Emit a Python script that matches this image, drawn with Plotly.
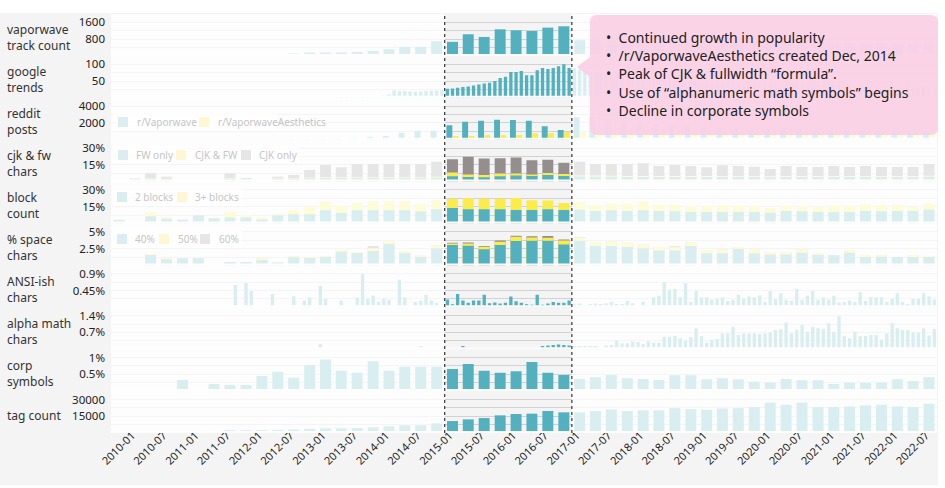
import pandas as pd
import plotly.graph_objects as go
from plotly.subplots import make_subplots

# ---------------- categories ----------------
quarters = [d.strftime('%Y-%m-%d') for d in pd.date_range('2009-10-01', '2022-07-01', freq='QS')]  # 52
months = [d.strftime('%Y-%m-%d') for d in pd.date_range('2009-10-01', '2022-09-01', freq='MS')]    # 156

# ---------------- data (quarterly, 2009-Q4 .. 2022-Q3) ----------------
track_count = ([0] * 11 + [110, 160, 160, 160, 190, 240, 320, 430, 430, 700]
               + [670, 1033, 905, 1270, 1223, 1190, 1350, 1414]
               + [747, 760, 720, 700, 740, 700, 680, 720, 700, 660, 640, 680, 700, 720, 680, 660, 640, 620, 600, 620, 600, 580, 620])

reddit_vaporwave = ([0] * 11 + [80, 120, 150, 180, 220, 357, 440, 833, 1071, 1071]
                    + [1714, 2142, 2261, 2380, 2344, 2261, 1595, 1154]
                    + [2665, 2700, 2400, 2200, 2100, 1900, 1700, 1600, 1500, 1400, 1300, 1200, 1300, 1400, 1300, 1200, 1100, 1000, 950, 900, 850, 800, 800])
reddit_aesthetics = ([0] * 20 + [30]
                     + [440, 440, 520, 520, 560, 760, 760, 916]
                     + [950, 1000, 1100, 1200, 1300, 1300, 1250, 1200, 1200, 1150, 1100, 1100, 1200, 1300, 1200, 1100, 1000, 950, 900, 850, 800, 800, 780])

cjk_fw_only = ([0, 2.0, 2.8, 2.3, 0, 0, 0, 2.5, 2.2, 0, 2.4, 2.6, 3.0, 3.2, 3.2, 3.3, 3.3, 3.3, 3.3, 3.3, 3.5]
               + [4.8, 4.2, 3.9, 4.8, 5.4, 5.1, 6.0, 5.1]
               + [4.5, 4.4, 4.3, 4.2, 4.2, 4.2, 4.2, 4.2, 4.2, 4.2, 4.2, 4.2, 4.0, 4.2, 4.2, 4.2, 4.2, 4.2, 4.2, 4.2, 4.2, 4.2, 4.4])
cjk_and_fw = ([0, 0.2, 0.5, 0.3, 0, 0, 0, 0.4, 0.2, 0, 0.3, 0.4, 0.6, 0.6, 0.6, 0.7, 0.7, 0.7, 0.7, 0.7, 0.8]
              + [3.3, 2.1, 2.1, 2.4, 1.8, 1.2, 1.8, 1.8]
              + [1.0, 1.0, 0.9, 0.8, 0.8, 0.8, 0.8, 0.8, 0.8, 0.8, 0.8, 0.8, 0.8, 0.8, 0.8, 0.8, 0.8, 0.8, 0.8, 0.8, 0.8, 0.8, 0.8])
cjk_only = ([0, 0.6, 4.1, 1.7, 0, 0, 0, 4.5, 0.9, 0, 1.6, 2.8, 6.7, 11.0, 9.0, 11.8, 11.8, 11.8, 11.8, 11.8, 13.5]
            + [12.0, 15.9, 14.7, 13.8, 14.4, 12.9, 11.7, 9.9]
            + [12.3, 10.4, 10.6, 10.8, 11.4, 9.0, 9.8, 9.0, 7.8, 9.6, 9.0, 8.4, 6.5, 9.0, 8.1, 8.1, 9.0, 8.1, 9.0, 8.1, 8.1, 8.1, 10.6])

blocks_2 = ([3.3, 0, 6.6, 4.3, 3.3, 7.3, 4.8, 5.3, 5.3, 3.6, 7.3, 8.2, 8.2, 11.8, 9.4, 11.8, 11.8, 11.8, 11.8, 10.8, 12.8]
            + [13.8, 12.8, 12.8, 12.8, 12.0, 12.0, 12.8, 12.0]
            + [12.4, 11.2, 11.8, 11.2, 11.8, 11.2, 10.9, 10.3, 10.3, 10.3, 10.3, 10.3, 9.7, 11.2, 10.9, 10.3, 10.3, 10.3, 11.2, 10.9, 11.2, 11.2, 12.4])
blocks_3plus = ([0, 0, 3.6, 1.5, 0, 0, 0, 5.0, 2.0, 1.8, 1.5, 3.6, 6.3, 7.6, 6.4, 6.6, 8.2, 8.2, 8.2, 6.6, 8.2]
                + [8.4, 9.9, 9.3, 9.3, 10.8, 8.7, 7.8, 6.3]
                + [6.9, 5.2, 6.0, 6.7, 7.6, 5.8, 6.1, 5.2, 5.5, 6.1, 5.5, 5.5, 4.2, 4.6, 4.6, 4.6, 5.5, 5.5, 5.5, 5.5, 5.5, 3.6, 5.5])

space_40 = ([0, 0, 1.54, 0.9, 1.05, 1.05, 0, 0.5, 0.5, 0.8, 0.45, 1.2, 1.1, 1.3, 2.04, 1.84, 2.14, 3.2, 1.84, 1.3, 2.54]
            + [3.03, 2.93, 2.4, 3.03, 3.63, 3.68, 3.68, 3.13]
            + [3.68, 2.88, 2.9, 2.73, 2.54, 2.24, 2.24, 2.9, 1.8, 1.8, 2.5, 1.8, 1.64, 1.64, 1.9, 1.54, 1.5, 1.9, 1.25, 1.3, 1.25, 1.25, 1.25])
space_50 = ([0, 0, 0.15, 0.25, 0, 0, 0, 0, 0, 0.25, 0, 0.15, 0.1, 0.1, 0.25, 0.15, 0.4, 0.45, 0.3, 0.15, 0.45]
            + [0.25, 0.35, 0.4, 0.5, 0.65, 0.5, 0.45, 0.6]
            + [0.5, 0.5, 0.7, 0.65, 0.6, 0.5, 0.45, 0.5, 0.5, 0.6, 0.25, 0.7, 0.35, 0.25, 0.5, 0.2, 0, 0.4, 0.3, 0.2, 0, 0.3, 0.15])
space_60 = ([0] * 16 + [0.35, 0, 0, 0, 0]
            + [0.1, 0.15, 0.1, 0.2, 0.15, 0.15, 0.25, 0.15]
            + [0.05, 0, 0, 0, 0, 0, 0.15, 0, 0, 0, 0, 0, 0, 0, 0, 0, 0, 0, 0, 0, 0, 0, 0])

corp_symbols = ([0, 0, 0, 0, 0.33, 0, 0.21, 0.18, 0.18, 0.45, 0.58, 0.4, 0.78, 0.94, 0.61, 0.55, 0.89, 0.61, 0.73, 0.73, 0.73]
                + [0.66, 0.81, 0.61, 0.55, 0.59, 0.87, 0.55, 0.48]
                + [0.36, 0.41, 0.48, 0.38, 0.36, 0.33, 0.47, 0.47, 0.35, 0.38, 0.35, 0.28, 0.26, 0.36, 0.32, 0.32, 0.21, 0.25, 0.25, 0.26, 0.35, 0.3, 0.41])

tag_count = ([0] * 7 + [2600, 2600, 2700, 2800, 3100, 3600, 4200, 4200, 4500, 5100, 6000, 6900, 6900, 8600]
             + [10700, 12200, 13400, 15800, 17000, 17300, 19700, 18500]
             + [18500, 19700, 21100, 19700, 20300, 20300, 22300, 21400, 20800, 22000, 22300, 23200, 27100, 25300, 27100, 23200, 23200, 23800, 24700, 25300, 23800, 23200, 26200])

# ---------------- data (monthly, 2009-10 .. 2022-09) ----------------
google_trends = ([0] * 33
                 + [1, 1, 1, 2, 2, 2, 2, 2, 2, 2, 3, 3, 3, 3, 3, 4, 4, 5]
                 + [6, 10, 22, 20, 20, 19, 18, 19, 20, 21, 22, 23]
                 + [27, 28, 30, 32, 34, 37, 40, 43, 45, 50, 59, 63, 77, 77, 80, 67, 67, 82, 89, 86, 89, 94, 100, 89]
                 + [88, 85, 80, 78, 76, 75, 74, 72, 70, 68, 66, 64,
                    62, 60, 58, 56, 55, 54, 52, 50, 50, 48, 48, 47,
                    46, 45, 45, 44, 44, 43, 42, 42, 41, 40, 40, 40,
                    40, 40, 42, 44, 45, 44, 43, 42, 41, 40, 40, 39,
                    38, 38, 37, 37, 36, 36, 35, 35, 35, 34, 34, 34,
                    33, 33, 32, 32, 32, 31, 31, 30, 30])

ansi_chars = ([0] * 23
              + [0.6, 0, 0.65, 0.44, 0, 0, 0, 0.36, 0, 0, 0, 0.3, 0, 0.18, 0.26, 0, 0.58, 0.23, 0, 0,
                 0.18, 0, 0, 0.26, 0.9, 0.23, 0.31, 0.14, 0.23, 0.2, 0, 0.74, 0.26, 0, 0.14, 0.18, 0.34, 0.18, 0.12, 0]
              + [0.21, 0.08, 0.36, 0.18, 0.12, 0.18, 0.18, 0.34, 0.11, 0.13, 0.1, 0.12, 0.29, 0.16, 0.12, 0.08, 0.07, 0.34, 0.07, 0.1, 0.14, 0.12, 0.12, 0.18]
              + [0.08, 0.1, 0.06, 0.08, 0.1]
              + [0.09, 0.11, 0.14, 0.09, 0.09, 0.17, 0.11, 0, 0.14, 0, 0.27, 0.31, 0.68, 0.47, 0.49, 0.27, 0.65, 0.14, 0.44, 0.26,
                 0.26, 0.2, 0.23, 0.26, 0.17, 0.2, 0.34, 0.23, 0.29, 0.27, 0.32, 0.14, 0.43, 0.22, 0.38, 0.2, 0.17, 0.49, 0.2, 0.31,
                 0.44, 0.2, 0.26, 0.2, 0.31, 0.13, 0.14, 0.18, 0.14, 0.41, 0.17, 0.27, 0.27, 0.27, 0.14, 0.23, 0.38, 0.14, 0.09, 0.22,
                 0.23, 0.38, 0.29, 0.2])

alpha_math = ([0] * 39 + [0.22] + [0] * 18 + [0.13] + [0] * 7 + [0.13] + [0] * 14
              + [0.13, 0.15, 0.18, 0.2, 0.18, 0.15]
              + [0.13, 0.13, 0.13, 0.13, 0.13] + [0]
              + [0.15, 0.18, 0.36, 0.25, 0.25, 0.32, 0.3, 0.22, 0.32, 0.27, 0.27, 0.52, 0.52, 0.55, 0.46, 0.36, 0.5, 0.87, 0.55, 0.27,
                 0.39, 0.43, 0.66, 0.66, 0.94, 0.59, 0.66, 0.66, 0.66, 0.64, 0.66, 0.71, 0.8, 0.83, 1.11, 0.66, 0.8, 1.01, 0.73, 0.94,
                 0.87, 0.83, 1.08, 0.73, 1.38, 0.55, 0.46, 0.73, 0.55, 0.55, 0.59, 0.59, 0.41, 0.66, 1.08, 0.87, 0.8, 0.8, 0.71, 0.69,
                 0.87, 0.57, 0.84])

row_titles = ['vaporwave<br>track count', 'google<br>trends', 'reddit<br>posts', 'cjk &amp; fw<br>chars', 'block<br>count',
              '% space<br>chars', 'ANSI-ish<br>chars', 'alpha math<br>chars', 'corp<br>symbols', 'tag count']
tick_vals = [[800, 1600], [50, 100], [2000, 4000], [15, 30], [15, 30], [2.5, 5], [0.45, 0.9], [0.7, 1.4], [0.5, 1], [15000, 30000]]
tick_text = [['800', '1600'], ['50', '100'], ['2000', '4000'], ['15%', '30%'], ['15%', '30%'], ['2.5%', '5%'],
             ['0.45%', '0.9%'], ['0.7%', '1.4%'], ['0.5%', '1%'], ['15000', '30000']]

highlight_start, highlight_end = '2015-01-01', '2017-01-01'
x_range = ['2009-10-01', '2022-10-01']
notes = ['Continued growth in popularity', '/r/VaporwaveAesthetics created Dec, 2014', 'Peak of CJK &amp; fullwidth “formula”.',
         'Use of “alphanumeric math symbols” begins', 'Decline in corporate symbols']

# ---------------- styles ----------------
TEAL, YELLOW, GRAY = '#53b1bf', '#fbec4a', '#948e8f'
F_TEAL, F_YELLOW, F_GRAY, F_TEXT = '#dcedf1', '#fdf8d3', '#e6e6e6', '#c5c5c5'
DAY = 86400000
W, H = 945, 488
L, R, T, B = 111, 8, 14, 55
PW, PH = W - L - R, H - T - B


def fx(px):
    return (px - L) / PW


def fy(py):
    return (T + PH - py) / PH


fig = make_subplots(rows=10, cols=1, shared_xaxes=True, vertical_spacing=0)


def qbar(y, color, row, width=63, offset=None):
    kw = dict(x=quarters, y=y, xperiod='M3', xperiodalignment='middle', width=width * DAY,
              marker=dict(color=color, line=dict(width=0)), hoverinfo='skip')
    if offset is not None:
        kw['offset'] = offset * DAY
    fig.add_trace(go.Bar(**kw), row=row, col=1)


def mbar(y, color, row):
    fig.add_trace(go.Bar(x=months, y=y, xperiod='M1', xperiodalignment='middle', width=19 * DAY,
                         marker=dict(color=color, line=dict(width=0)), hoverinfo='skip'), row=row, col=1)


qbar(track_count, TEAL, 1)
mbar(google_trends, TEAL, 2)
qbar(reddit_vaporwave, TEAL, 3, width=34, offset=-35)
qbar(reddit_aesthetics, YELLOW, 3, width=33, offset=2)
# stacked rows drawn as overlaid cumulative bars
cjk_mid = [a + b for a, b in zip(cjk_fw_only, cjk_and_fw)]
cjk_tot = [m + c for m, c in zip(cjk_mid, cjk_only)]
qbar(cjk_tot, GRAY, 4)
qbar(cjk_mid, YELLOW, 4)
qbar(cjk_fw_only, TEAL, 4)
blk_tot = [a + b for a, b in zip(blocks_2, blocks_3plus)]
qbar(blk_tot, YELLOW, 5)
qbar(blocks_2, TEAL, 5)
sp_mid = [a + b for a, b in zip(space_40, space_50)]
sp_tot = [m + c for m, c in zip(sp_mid, space_60)]
qbar(sp_tot, GRAY, 6)
qbar(sp_mid, YELLOW, 6)
qbar(space_40, TEAL, 6)
mbar(ansi_chars, TEAL, 7)
mbar(alpha_math, TEAL, 8)
qbar(corp_symbols, TEAL, 9)
qbar(tag_count, TEAL, 10)

for i in range(10):
    top = tick_vals[i][1] * 1.25
    fig.update_yaxes(row=i + 1, col=1, range=[0, top], tickvals=tick_vals[i], ticktext=tick_text[i],
                     showgrid=True, gridcolor='#d2d2d2', gridwidth=1, zeroline=False, ticks='',
                     tickfont=dict(size=11.5, color='#222'), ticklabelstandoff=5,
                     minor=dict(tickvals=[top * k / 5 for k in range(1, 6)], showgrid=True, gridcolor='#d2d2d2', gridwidth=1, ticks=''),
                     fixedrange=True)
    fig.add_annotation(xref='paper', yref='paper', x=fx(5), y=1 - (i + 0.5) / 10, yshift=-3,
                       xanchor='left', yanchor='middle', align='left', showarrow=False,
                       text=row_titles[i], font=dict(size=12, color='#333'))

fig.update_xaxes(range=x_range, showgrid=False, zeroline=False, ticks='', showline=False, type='date', fixedrange=True)
fig.update_xaxes(row=10, col=1, dtick='M6', tick0='2010-01-01', tickformat='%Y-%m', tickangle=-45,
                 tickfont=dict(size=11, color='#222'), ticklabelstandoff=-7, ticklabelshift=5)

shapes = []
# gray panel behind everything
shapes.append(dict(type='rect', xref='paper', yref='paper', x0=fx(0), x1=fx(938), y0=fy(485), y1=fy(13),
                   fillcolor='#f4f4f4', line=dict(width=0), layer='below'))
# row separators
for i in range(10):
    yb = 1 - (i + 1) / 10
    shapes.append(dict(type='rect', xref='paper', yref='paper', x0=0, x1=1, y0=yb, y1=yb + 2 / PH,
                       fillcolor='#fbfbfb', line=dict(width=0), layer='above'))
# fade outside highlight
for a, b in [(x_range[0], highlight_start), (highlight_end, x_range[1])]:
    shapes.append(dict(type='rect', xref='x', yref='paper', x0=a, x1=b, y0=0, y1=1,
                       fillcolor='rgba(255,255,255,0.78)', line=dict(width=0), layer='above'))
# legends (faded)
legends = [
    (122, 113, 277, [(118, F_TEAL, 135, 'r/Vaporwave'), (199, F_YELLOW, 216, 'r/VaporwaveAesthetics')]),
    (155, 113, 300, [(118, F_TEAL, 134, 'FW only'), (176, F_YELLOW, 193, 'CJK &amp; FW'), (241, F_GRAY, 257, 'CJK only')]),
    (197, 112, 242, [(117, F_TEAL, 133, '2 blocks'), (177, F_YELLOW, 193, '3+ blocks')]),
    (239, 112, 242, [(117, F_TEAL, 133, '40%'), (159, F_YELLOW, 176, '50%'), (200, F_GRAY, 217, '60%')]),
]
for yc, bx0, bx1, items in legends:
    shapes.append(dict(type='rect', xref='paper', yref='paper', x0=fx(bx0), x1=fx(bx1), y0=fy(yc + 9), y1=fy(yc - 9),
                       fillcolor='rgba(255,255,255,0.7)', line=dict(width=0), layer='above'))
    for sx, col, tx, label in items:
        shapes.append(dict(type='rect', xref='paper', yref='paper', x0=fx(sx), x1=fx(sx + 10), y0=fy(yc + 5), y1=fy(yc - 5),
                           fillcolor=col, line=dict(width=0), layer='above'))
        fig.add_annotation(xref='paper', yref='paper', x=fx(tx), y=fy(yc), xanchor='left', yanchor='middle',
                           showarrow=False, text=label, font=dict(size=10, color=F_TEXT))
# dashed highlight bounds
for d in [highlight_start, highlight_end]:
    shapes.append(dict(type='line', xref='x', yref='paper', x0=d, x1=d, y0=0, y1=1,
                       line=dict(color='#444', width=1.3, dash='dot'), layer='above'))
# pink callout with pointer
x0, x1, yt, yb = fx(590), fx(938), fy(15), fy(135)
rx, ry = 7 / PW, 7 / PH
tip_x, tip_y, tri_t, tri_b = fx(577), fy(67), fy(57), fy(77)
path = (f'M {x0 + rx},{yt} L {x1 - rx},{yt} Q {x1},{yt} {x1},{yt - ry} L {x1},{yb + ry} Q {x1},{yb} {x1 - rx},{yb} '
        f'L {x0 + rx},{yb} Q {x0},{yb} {x0},{yb + ry} L {x0},{tri_b} L {tip_x},{tip_y} L {x0},{tri_t} '
        f'L {x0},{yt - ry} Q {x0},{yt} {x0 + rx},{yt} Z')
shapes.append(dict(type='path', xref='paper', yref='paper', path=path, fillcolor='rgba(250,206,228,0.9)',
                   line=dict(width=0), layer='above'))
fig.update_layout(shapes=shapes)

fig.add_annotation(xref='paper', yref='paper', x=fx(604), y=fy(74), xanchor='left', yanchor='middle', align='left',
                   showarrow=False, text='<br>'.join('•  ' + n for n in notes), font=dict(size=14, color='#222'))

fig.update_layout(width=W, height=H, margin=dict(l=L, r=R, t=T, b=B), barmode='overlay', showlegend=False,
                  paper_bgcolor='white', plot_bgcolor='#f4f4f4', font=dict(family='Noto Sans', color='#222'))

fig.write_html('out.html', config={'displayModeBar': False, 'staticPlot': True},
               post_script="document.body.style.margin='0';document.body.style.overflow='hidden';")
